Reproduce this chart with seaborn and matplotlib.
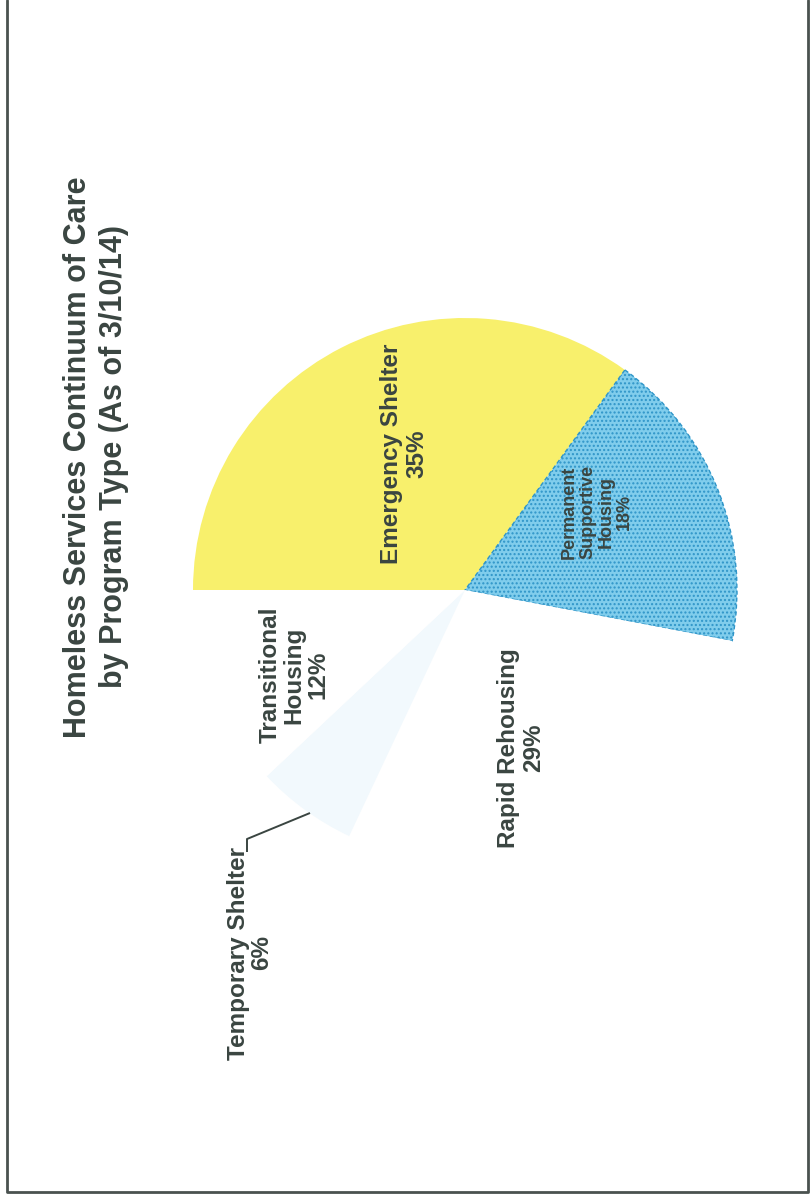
import matplotlib
matplotlib.use("Agg")
import matplotlib.pyplot as plt
import seaborn as sns

sns.set_theme(style="white")
plt.rcParams["font.family"] = ["Liberation Sans", "DejaVu Sans"]
plt.rcParams["hatch.linewidth"] = 1.0

# Program types in drawing order (clockwise from the top of the page view)
programs = ["Emergency Shelter", "Permanent Supportive Housing", "Rapid Rehousing",
            "Temporary Shelter", "Transitional Housing"]
shares = [35, 18, 29, 6, 12]
wedge_colors = ["#f8f06c", "#80cdec", "#ffffff", "#f2f9fd", "#ffffff"]

title_lines = ["Homeless Services Continuum of Care", "by Program Type (As of 3/10/14)"]
label_text = {
    "Emergency Shelter": "Emergency Shelter",
    "Permanent Supportive Housing": "Permanent\nSupportive\nHousing",
    "Rapid Rehousing": "Rapid Rehousing",
    "Temporary Shelter": "Temporary Shelter",
    "Transitional Housing": "Transitional\nHousing",
}

W, H = 810, 1203
fig = plt.figure(figsize=(W / 100, H / 100), dpi=100)
ax = fig.add_axes([0, 0, 1, 1])

TXT = "#3a4541"
cx, cy, R = 465, 590, 272

wedges, _ = ax.pie(shares, colors=wedge_colors, startangle=180, counterclock=True,
                   center=(cx, cy), radius=R,
                   wedgeprops=dict(linewidth=0))
# speckled blue wedge with a dashed rim
psh = wedges[1]
psh.set_hatch("....")
psh.set_edgecolor("#2f95c8")
psh.set_linewidth(1.0)
psh.set_linestyle((0, (3, 2)))

ax.set_xlim(0, W)
ax.set_ylim(H, 0)
ax.set_aspect("auto")
ax.axis("off")

# label placement (page-view rotated text)
label_pos = {
    "Emergency Shelter": (404, 454, 17.5, 1.12),
    "Permanent Supportive Housing": (597, 512, 13, 1.1),
    "Rapid Rehousing": (521, 748, 17.5, 1.12),
    "Temporary Shelter": (250, 953, 17.5, 1.0),
    "Transitional Housing": (294, 675, 17.5, 1.05),
}
for name, val in zip(programs, shares):
    x, y, fs, ls = label_pos[name]
    ax.text(x, y, f"{label_text[name]}\n{val}%", rotation=90, ha="center", va="center",
            multialignment="center", fontsize=fs, fontweight="bold", color=TXT,
            linespacing=ls)

# leader line for the small wedge
ax.plot([310, 247, 247], [813, 839, 852], color=TXT, lw=1.4, solid_capstyle="butt")

# title
ax.text(96, 457, "\n".join(title_lines), rotation=90, ha="center", va="center",
        multialignment="center", fontsize=22, fontweight="bold", color=TXT,
        linespacing=1.25)

# page frame
ax.plot([7, 7, 808, 808], [0, 1192, 1192, 0], color="#4a524f", lw=2)

fig.savefig("out.png", dpi=100, facecolor="white")
